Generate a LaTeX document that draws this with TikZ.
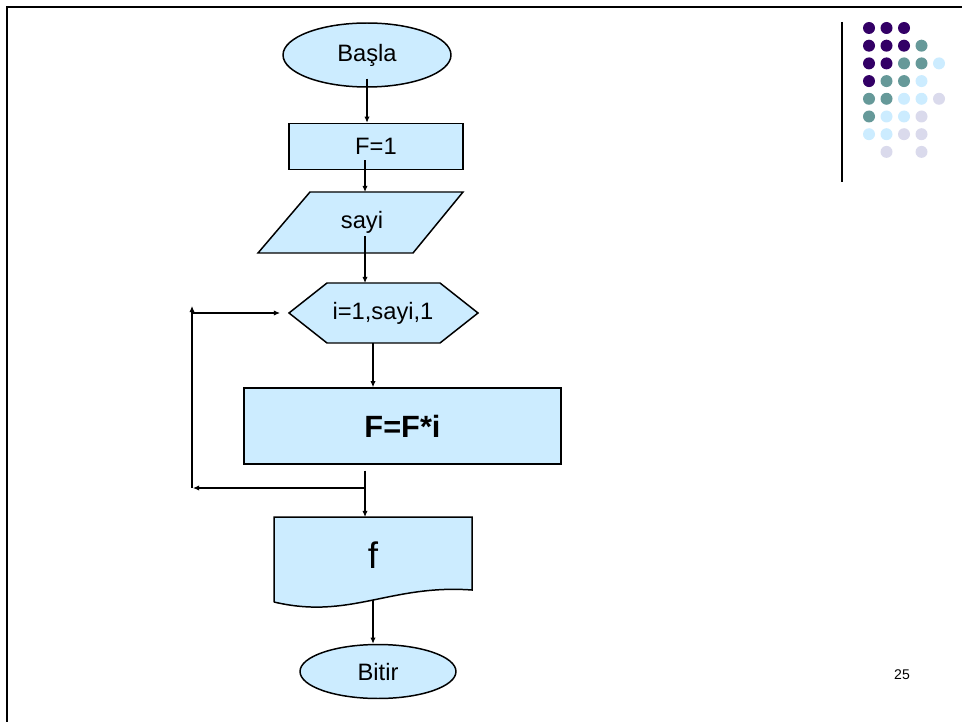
\documentclass[tikz,border=0pt]{standalone}
\usepackage{fontspec}
\setmainfont{Liberation Sans}
\usetikzlibrary{shapes.geometric,arrows.meta}
\definecolor{BoxFill}{HTML}{CCECFF}
\definecolor{DotA}{HTML}{330066}
\definecolor{DotB}{HTML}{669999}
\definecolor{DotC}{HTML}{CCECFF}
\definecolor{DotD}{HTML}{DADAEC}

\tikzset{%
  shapeline/.style={draw, line width=0.85pt, fill=BoxFill},%
  termbox/.style={shapeline, ellipse, inner sep=0pt, font=\fontsize{13.5}{16}\selectfont},%
  procbox/.style={shapeline, rectangle, inner sep=0pt, font=\fontsize{13.5}{16}\selectfont},%
  flow/.style={line width=0.6pt, -{Latex[length=3.5pt,width=3pt]}},%
  plain/.style={font=\fontsize{13.5}{16}\selectfont}%
}

\begin{document}
\begin{tikzpicture}[x=0.02cm, y=-0.02cm]%
\useasboundingbox (0,0) rectangle (962,722);%
% slide frame
\draw[line width=1.3pt] (7,722) -- (7,7) -- (962,7);%
% corner mark
\draw[line width=0.6pt] (842,22) -- (842,182);%
\foreach \c/\r in {0/0,1/0,2/0,0/1,1/1,2/1,0/2,1/2,0/3}%
  \fill[DotA] ({869+17.5*\c},{28+17.7*\r}) circle (0.12cm);%
\foreach \c/\r in {3/1,2/2,3/2,1/3,2/3,0/4,1/4,0/5}%
  \fill[DotB] ({869+17.5*\c},{28+17.7*\r}) circle (0.12cm);%
\foreach \c/\r in {4/2,3/3,2/4,3/4,1/5,2/5,0/6,1/6}%
  \fill[DotC] ({869+17.5*\c},{28+17.7*\r}) circle (0.12cm);%
\foreach \c/\r in {4/4,3/5,2/6,3/6,1/7,3/7}%
  \fill[DotD] ({869+17.5*\c},{28+17.7*\r}) circle (0.12cm);%
% flowchart shapes
\node[termbox, minimum width=3.36cm, minimum height=1.28cm] (basla) at (367,55) {Başla};%
\node[procbox, minimum width=3.48cm, minimum height=0.92cm] (f1) at (376,146.5) {F=1};%
\draw[shapeline] (310,192) -- (463,192) -- (413,253) -- (258,253) -- cycle;%
\node[plain] (sayi) at (362,222) {sayi};%
\coordinate (sayiN) at (365,192);%
\coordinate (sayiS) at (365,253);%
\draw[shapeline] (289,313) -- (327,283) -- (440,283) -- (478,313) -- (440,343) -- (327,343) -- cycle;%
\node[plain] (loop) at (383,313) {i=1,sayi,1};%
\coordinate (loopN) at (365,283);%
\coordinate (loopS) at (373,343);%
\coordinate (loopW) at (289,313);%
\node[procbox, minimum width=6.34cm, minimum height=1.52cm, font=\fontsize{17.5}{20}\selectfont\bfseries] (body) at (402.5,426) {F=F*i};%
\draw[shapeline] (274,602) -- (274,517) -- (472,517) -- (472,590) .. controls (390,584) and (350,620) .. (274,602);%
\node[font=\fontsize{21}{24}\selectfont] (out) at (373,555) {f};%
\coordinate (docN) at (365,517);%
\coordinate (docS) at (373,600);%
\node[termbox, minimum width=3.12cm, minimum height=1.08cm] (bitir) at (378,671.5) {Bitir};%
\node[font=\fontsize{8}{10}\selectfont] (page) at (902,675) {25};%
% connectors
\draw[flow] ([yshift=0.18cm]basla.south) -- (basla.south |- f1.north);%
\draw[flow] ([yshift=0.2cm]f1.south -| sayiN) -- (sayiN);%
\draw[flow] ([yshift=0.34cm]sayiS) -- (loopN);%
\draw[flow] (loopS) -- (loopS |- body.north);%
\coordinate (join) at (365,488);%
\coordinate (corner) at (192,488);%
\coordinate (up) at (192,306);%
\draw[flow] ([yshift=-0.12cm]body.south -| join) -- (docN);%
\draw[flow] (join) -- ([xshift=0.02cm]corner);%
\draw[flow] (corner) -- (up);%
\draw[flow] (corner |- loopW) -- ([xshift=-0.18cm]loopW);%
\draw[flow] (docS) -- (docS |- bitir.north);%
\end{tikzpicture}
\end{document}
